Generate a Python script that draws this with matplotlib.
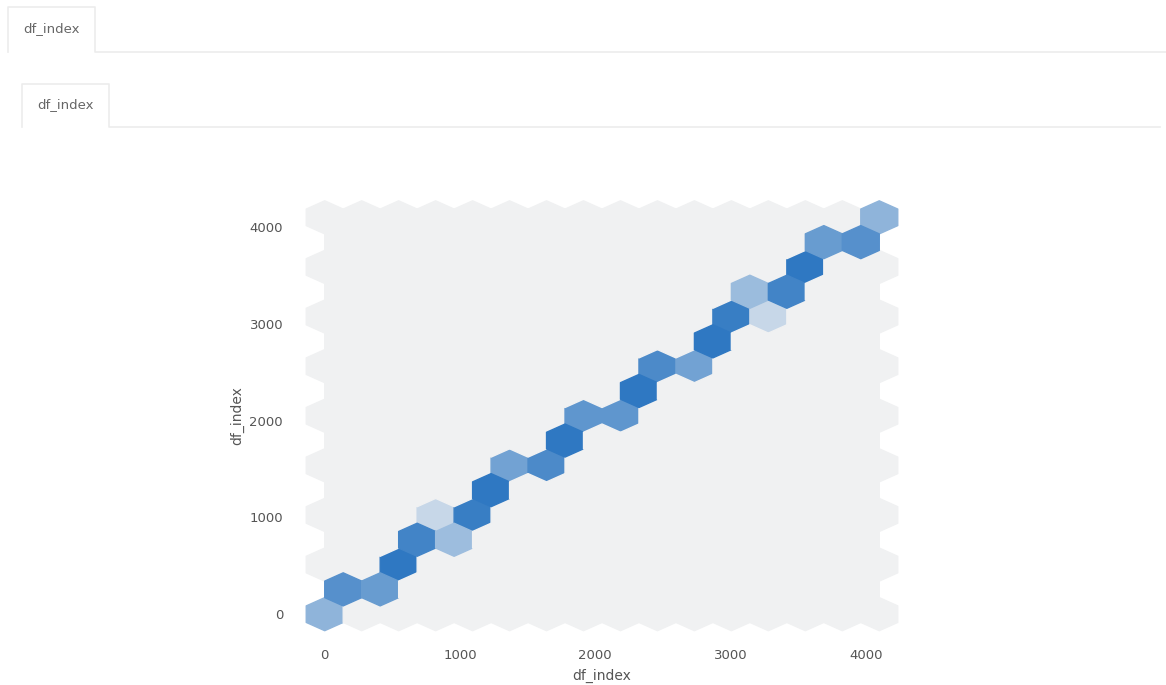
import numpy as np
import matplotlib
matplotlib.use("Agg")
import matplotlib.pyplot as plt
import seaborn as sns

# hex cell centres (data units) and number of rows falling in each cell
cell_x = [0, 137, 410, 547, 683, 820, 957, 1093, 1230, 1367, 1640, 1777, 1913,
          2187, 2323, 2460, 2733, 2870, 3007, 3143, 3280, 3417, 3553, 3690, 3963, 4100]
cell_y = [0, 256, 256, 512, 769, 1025, 769, 1025, 1281, 1537, 1537, 1794, 2050,
          2050, 2306, 2562, 2562, 2819, 3075, 3331, 3075, 3331, 3587, 3844, 3844, 4100]
cell_count = [105, 168, 147, 210, 189, 45, 91, 200, 210, 137, 178, 210, 157,
              157, 210, 178, 137, 210, 200, 92, 45, 189, 210, 147, 168, 105]
data_extent = (0, 4100, 0, 4100)
var_name = "df_index"

plt.rcParams['font.family'] = ['DejaVu Sans']
fig = plt.figure(figsize=(11.66, 6.85), dpi=100)

# page chrome (tabs) drawn in pixel coordinates
bg = fig.add_axes([0, 0, 1, 1], zorder=0)
bg.set_xlim(0, 1166)
bg.set_ylim(685, 0)
bg.axis("off")
tab_col = "#ececec"
bg.plot([8, 8, 95, 95, 1166], [52, 7, 7, 52, 52], color=tab_col, lw=1.2)
bg.text(52, 29, var_name, ha="center", va="center", fontsize=9.5, color="#666666")
bg.plot([22, 22, 109, 109, 1160], [127, 84, 84, 127, 127], color=tab_col, lw=1.2)
bg.text(66, 105, var_name, ha="center", va="center", fontsize=9.5, color="#666666")

cmap = sns.light_palette("#2f78c2", as_cmap=True)

ax = fig.add_axes([297 / 1166, 51 / 685, 610 / 1166, 436.5 / 685], zorder=1)
ax.patch.set_alpha(0)
ax.hexbin(cell_x, cell_y, C=cell_count, reduce_C_function=np.sum, mincnt=0,
          gridsize=15, extent=data_extent, cmap=cmap)

for s in ax.spines.values():
    s.set_visible(False)
ax.set_xticks([0, 1000, 2000, 3000, 4000])
ax.set_yticks([0, 1000, 2000, 3000, 4000])
ax.tick_params(axis="x", length=0, pad=11, labelsize=9.5, labelcolor="#555555")
ax.tick_params(axis="y", length=0, pad=10, labelsize=9.5, labelcolor="#555555")
ax.set_xlabel(var_name, fontsize=10, color="#555555", labelpad=5)
ax.set_ylabel(var_name, fontsize=10, color="#555555", labelpad=4)

plt.savefig("out.png", dpi=100)
